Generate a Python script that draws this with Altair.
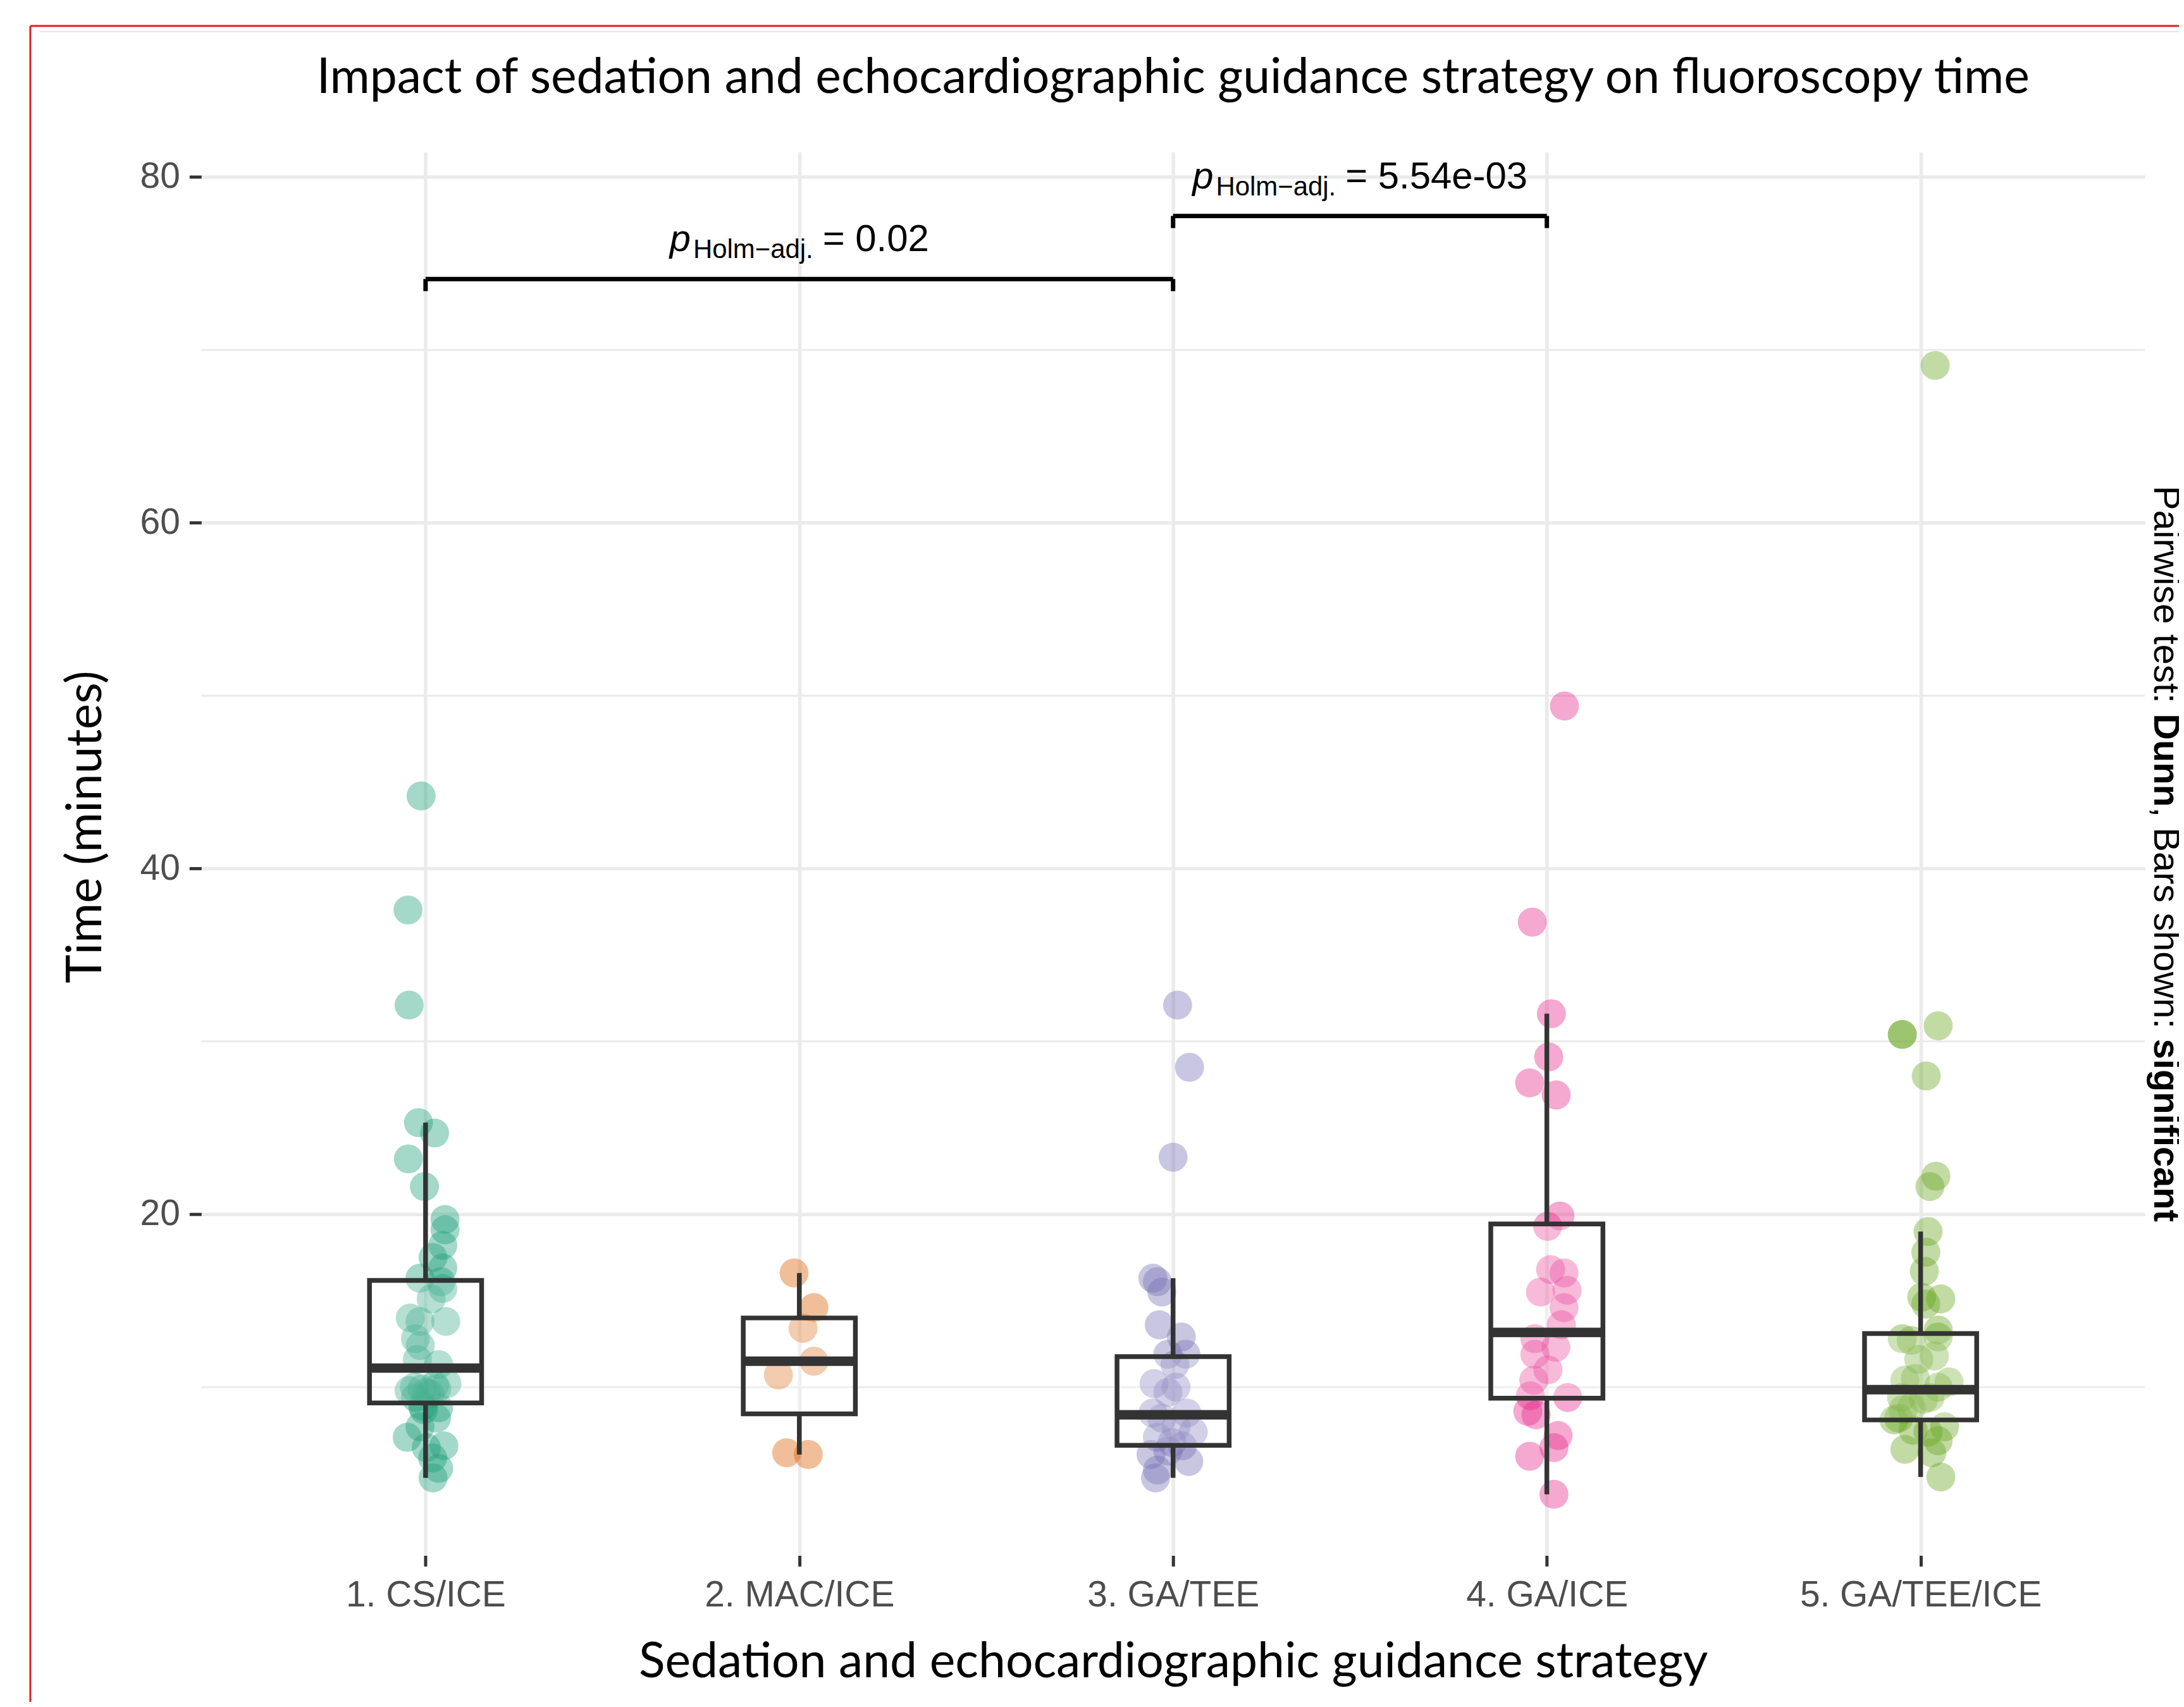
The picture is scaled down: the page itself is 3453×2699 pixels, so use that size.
import json
import altair as alt
import pandas as pd

# ---------------- data ----------------
groups = ["1. CS/ICE", "2. MAC/ICE", "3. GA/TEE", "4. GA/ICE", "5. GA/TEE/ICE"]
colors = ["#1B9E77", "#D95F02", "#7570B3", "#E7298A", "#66A61E"]

time_cs_ice = [44.2, 37.6, 32.1, 25.3, 24.7, 23.2, 21.6, 19.7, 19.1, 18.2, 17.5, 16.9,
               16.3, 16.1, 15.7, 15.1, 14.0, 13.8, 13.8, 12.8, 12.4, 11.6, 11.3, 9.8,
               9.9, 10.1, 10.2, 9.4, 9.6, 8.8, 8.7, 8.2, 7.7, 7.1, 6.6, 6.5, 5.9, 5.3,
               4.75, 10.0, 9.7, 9.9, 8.9]
jitter_cs_ice = [-0.012, -0.047, -0.044, -0.019, 0.024, -0.046, -0.003, 0.052, 0.052, 0.046,
                 0.020, 0.046, -0.015, 0.041, 0.046, 0.015, -0.041, 0.054, -0.015, -0.027,
                 -0.014, -0.022, 0.035, -0.044, -0.010, 0.024, 0.057, -0.027, 0.012, 0.035,
                 -0.005, 0.029, -0.015, -0.049, 0.049, 0.002, 0.019, 0.035, 0.020, -0.030,
                 0.002, 0.030, -0.008]

time_mac_ice = [16.6, 14.6, 13.4, 11.5, 10.7, 6.2, 6.1]
jitter_mac_ice = [-0.014, 0.039, 0.010, 0.039, -0.056, -0.034, 0.024]

time_ga_tee = [32.1, 28.5, 23.3, 16.3, 16.1, 15.5, 13.6, 12.9, 11.9, 11.9, 11.3, 10.2, 10.0,
               9.7, 8.5, 8.2, 8.5, 7.4, 7.1, 7.7, 6.1, 6.3, 5.7, 5.2, 4.75, 6.8, 6.6]
jitter_ga_tee = [0.012, 0.044, 0.0, -0.054, -0.042, -0.030, -0.037, 0.022, 0.034, -0.014,
                 0.005, -0.051, 0.008, -0.014, -0.054, -0.030, 0.037, 0.054, -0.042, 0.008,
                 -0.059, -0.014, 0.042, -0.042, -0.047, -0.003, 0.025]

time_ga_ice = [49.4, 36.9, 31.6, 29.1, 27.6, 26.9, 19.9, 19.3, 16.8, 16.6, 15.5, 15.6, 14.6,
               13.6, 12.8, 11.9, 12.3, 11.0, 10.4, 9.5, 9.4, 8.6, 8.4, 7.2, 6.5, 6.0, 3.8]
jitter_ga_ice = [0.047, -0.039, 0.012, 0.005, -0.046, 0.025, 0.035, 0.002, 0.010, 0.046,
                 -0.017, 0.054, 0.046, 0.039, -0.032, -0.032, 0.024, 0.003, -0.035, -0.044,
                 0.056, -0.051, -0.029, 0.030, 0.019, -0.046, 0.019]

time_ga_tee_ice = [69.1, 30.4, 30.4, 30.9, 28.0, 22.2, 21.6, 19.0, 17.8, 16.7, 15.2, 15.1,
                   14.8, 12.8, 13.3, 12.9, 12.7, 11.8, 11.6, 10.4, 10.5, 10.0, 9.4, 9.4, 8.8,
                   8.2, 7.7, 7.5, 6.9, 6.4, 6.2, 4.8, 8.1, 10.3, 9.3, 8.7, 7.4]
jitter_ga_tee_ice = [0.039, -0.049, -0.049, 0.047, 0.015, 0.041, 0.025, 0.020, 0.014, 0.010,
                     0.003, 0.054, 0.014, -0.049, 0.047, 0.047, -0.025, 0.037, -0.005, -0.042,
                     -0.014, 0.047, -0.051, 0.025, -0.025, -0.059, 0.064, -0.020, 0.047,
                     -0.042, 0.030, 0.054, -0.071, 0.076, 0.008, -0.047, 0.020]

# box statistics (whisker ends, quartiles, median)
box_low = [4.75, 6.1, 4.75, 3.8, 4.8]
box_q1 = [9.08, 8.45, 6.63, 9.36, 8.1]
box_median = [11.1, 11.5, 8.4, 13.16, 9.85]
box_q3 = [16.17, 14.0, 11.76, 19.44, 13.1]
box_high = [25.3, 16.6, 16.3, 31.6, 19.0]

# significance brackets
bracket_from = [1, 3]
bracket_to = [3, 4]
bracket_y = [74.1, 77.75]
bracket_drop = [0.7, 0.7]
bracket_p = ["0.02", "5.54e-03"]

y_major = [20, 40, 60, 80]
y_minor = [10, 30, 50, 70]

title_text = "Impact of sedation and echocardiographic guidance strategy on fluoroscopy time"
x_title = "Sedation and echocardiographic guidance strategy"
y_title = "Time (minutes)"
caption_parts = [("Pairwise test: ", "normal"), ("Dunn", "bold"),
                 (", Bars shown: ", "normal"), ("significant", "bold")]

# ---------------- build tables ----------------
series = [time_cs_ice, time_mac_ice, time_ga_tee, time_ga_ice, time_ga_tee_ice]
jitters = [jitter_cs_ice, jitter_mac_ice, jitter_ga_tee, jitter_ga_ice, jitter_ga_tee_ice]
rows = []
for i, (g, ts, js) in enumerate(zip(groups, series, jitters)):
    for t, j in zip(ts, js):
        rows.append({"group": g, "time": t, "xpos": i + 1 + j})
points_df = pd.DataFrame(rows)

box_df = pd.DataFrame({
    "group": groups,
    "idx": list(range(1, 6)),
    "lo": box_low, "q1": box_q1, "med": box_median, "q3": box_q3, "hi": box_high,
})
BOX_HALF = 0.15
box_df["left"] = box_df["idx"] - BOX_HALF
box_df["right"] = box_df["idx"] + BOX_HALF

br_df = pd.DataFrame({"x1": bracket_from, "x2": bracket_to, "y": bracket_y})
br_df["yd"] = br_df["y"] - pd.Series(bracket_drop)
br_df["xm"] = (br_df["x1"] + br_df["x2"]) / 2

# Arial-like glyph widths (em) for text layout of annotations
W_REG = {" ": .278, ",": .278, "-": .333, ".": .278, ":": .278, "=": .584, "\u2212": .584,
         "B": .667, "D": .722, "H": .722, "P": .667, "a": .556, "d": .556, "e": .556,
         "h": .556, "i": .222, "j": .222, "l": .222, "m": .833, "n": .556, "o": .556,
         "p": .556, "r": .333, "s": .5, "t": .278, "u": .556, "w": .722}
W_BOLD = {"D": .722, "a": .556, "c": .556, "f": .333, "g": .611, "i": .278, "n": .611,
          "s": .556, "t": .333, "u": .611}


def text_width(s, size, bold=False):
    tab = W_BOLD if bold else W_REG
    return sum(tab.get(c, .556) for c in s) * size

# ---------------- chart ----------------
W, H = 3080, 2224
PAD_L, PAD_T = 311, 230
x_scale = alt.Scale(domain=[0.4, 5.6], nice=False, zero=False)
y_scale = alt.Scale(domain=[0.26, 81.44], nice=False, zero=False)
label_expr = "[" + ",".join(json.dumps(g) for g in groups) + "][round(datum.value) - 1]"

TICK = "#333333"
GRID = "#EBEBEB"
TITLE_FONT, TITLE_SIZE = "Lato", 77
x_axis = alt.Axis(values=[1, 2, 3, 4, 5], labelExpr=label_expr, title=x_title,
                  grid=True, gridColor=GRID, gridWidth=5.5, domain=False,
                  tickColor=TICK, tickSize=17, tickWidth=5,
                  labelFont="Liberation Sans", labelFontSize=57, labelColor="#4D4D4D",
                  labelPadding=18, labelFlush=False, labelOverlap=False, labelLimit=0,
                  titleFont=TITLE_FONT, titleFontSize=TITLE_SIZE, titleFontWeight="normal",
                  titleColor="black", titleBaseline="middle", titleY=170)
y_axis = alt.Axis(values=y_major, title=y_title, grid=True, gridColor=GRID, gridWidth=5.5,
                  domain=False, tickColor=TICK, tickSize=19, tickWidth=5,
                  labelFont="Liberation Sans", labelFontSize=57, labelColor="#4D4D4D",
                  labelPadding=15, labelFlush=False, labelLimit=0,
                  titleFont=TITLE_FONT, titleFontSize=TITLE_SIZE, titleFontWeight="normal",
                  titleColor="black", titleAngle=270, titleBaseline="middle",
                  titleAlign="center", titleX=-182, titleY=1069)


def X(f):
    return alt.X(f, type="quantitative", scale=x_scale, axis=x_axis)


def Y(f):
    return alt.Y(f, type="quantitative", scale=y_scale, axis=y_axis)


minor_grid = alt.Chart(pd.DataFrame({"v": y_minor})).mark_rule(
    color=GRID, strokeWidth=3).encode(y=Y("v"))

pts = alt.Chart(points_df).mark_circle(size=2116, opacity=0.4, strokeWidth=0).encode(
    x=X("xpos"), y=Y("time"),
    color=alt.Color("group:N", scale=alt.Scale(domain=groups, range=colors), legend=None))

LW = 7.5
whisk_hi = alt.Chart(box_df).mark_rule(color=TICK, strokeWidth=LW).encode(
    x=X("idx"), y=Y("q3"), y2="hi")
whisk_lo = alt.Chart(box_df).mark_rule(color=TICK, strokeWidth=LW).encode(
    x=X("idx"), y=Y("lo"), y2="q1")
boxes = alt.Chart(box_df).mark_rect(fill="white", fillOpacity=0.2, stroke=TICK,
                                    strokeWidth=LW).encode(
    x=X("left"), x2="right", y=Y("q1"), y2="q3")
medians = alt.Chart(box_df).mark_rule(color=TICK, strokeWidth=15).encode(
    x=X("left"), x2="right", y=Y("med"))

BW = 7
br_h = alt.Chart(br_df).mark_rule(color="black", strokeWidth=BW).encode(
    x=X("x1"), x2="x2", y=Y("y"))
br_l = alt.Chart(br_df).mark_rule(color="black", strokeWidth=BW).encode(
    x=X("x1"), y=Y("y"), y2="yd")
br_r = alt.Chart(br_df).mark_rule(color="black", strokeWidth=BW).encode(
    x=X("x2"), y=Y("y"), y2="yd")

layers = [minor_grid, pts, whisk_hi, whisk_lo, boxes, medians, br_h, br_l, br_r]

# p-value labels: italic p, subscript, "= value", centred on the bracket
MAIN, SUB = 60, 42
sub_text = "Holm\u2212adj."
for i in range(len(bracket_p)):
    one = br_df.iloc[[i]].reset_index(drop=True)
    rest = "= " + bracket_p[i]
    w_left = text_width("p", MAIN) + 4 + text_width(sub_text, SUB) + 15
    w_right = text_width(rest, MAIN)
    start = -(w_left + w_right) / 2
    base = alt.Chart(one).encode(x=X("xm"), y=Y("y"))
    layers.append(base.mark_text(text="p", font="Liberation Sans", fontStyle="italic",
                                 fontSize=MAIN, align="left", baseline="alphabetic",
                                 dx=start, dy=-44, color="black"))
    layers.append(base.mark_text(text=sub_text, font="Liberation Sans", fontSize=SUB,
                                 align="left", baseline="alphabetic",
                                 dx=start + text_width("p", MAIN) + 4, dy=-33, color="black"))
    layers.append(base.mark_text(text=rest, font="Liberation Sans", fontSize=MAIN,
                                 align="left", baseline="alphabetic",
                                 dx=start + w_left, dy=-44, color="black"))

one_row = pd.DataFrame({"k": [0]})

# chart title, centred over the panel
layers.append(alt.Chart(one_row).mark_text(
    text=title_text, font=TITLE_FONT, fontSize=TITLE_SIZE, align="center",
    baseline="alphabetic", color="black").encode(
    x=alt.value(W / 2), y=alt.value(144 - 8 - PAD_T)))

# right-hand caption, rotated, reading top to bottom
CAP = 58
total = sum(text_width(s, CAP, w == "bold") for s, w in caption_parts)
pos = H / 2 - total / 2
for s, w in caption_parts:
    layers.append(alt.Chart(one_row).mark_text(
        text=s, font="Liberation Sans", fontSize=CAP, fontWeight=w, angle=90,
        align="left", baseline="alphabetic", color="black").encode(
        x=alt.value(3414 - 8 - PAD_L), y=alt.value(pos)))
    pos += text_width(s, CAP, w == "bold")

# frame of the screenshot (top and left edges)
layers.append(alt.Chart(one_row).mark_rule(color="#E8E8E8", strokeWidth=2).encode(
    x=alt.value(62 - 8 - PAD_L), x2=alt.value(3300), y=alt.value(47 - 8 - PAD_T)))
layers.append(alt.Chart(one_row).mark_rule(color="#E01E1E", strokeWidth=3).encode(
    x=alt.value(48 - 8 - PAD_L), x2=alt.value(3300), y=alt.value(38 - 8 - PAD_T)))
layers.append(alt.Chart(one_row).mark_rule(color="#E01E1E", strokeWidth=3).encode(
    x=alt.value(48 - 8 - PAD_L), y=alt.value(38 - 8 - PAD_T), y2=alt.value(2500)))

chart = alt.layer(*layers).properties(
    width=W, height=H,
    autosize=alt.AutoSizeParams(type="none"),
    padding={"left": PAD_L, "top": PAD_T, "right": 3445 - PAD_L - W, "bottom": 229},
).configure(background="white").configure_view(stroke=None, strokeWidth=0)

chart.save("out.html", embed_options={"renderer": "svg", "actions": False})
